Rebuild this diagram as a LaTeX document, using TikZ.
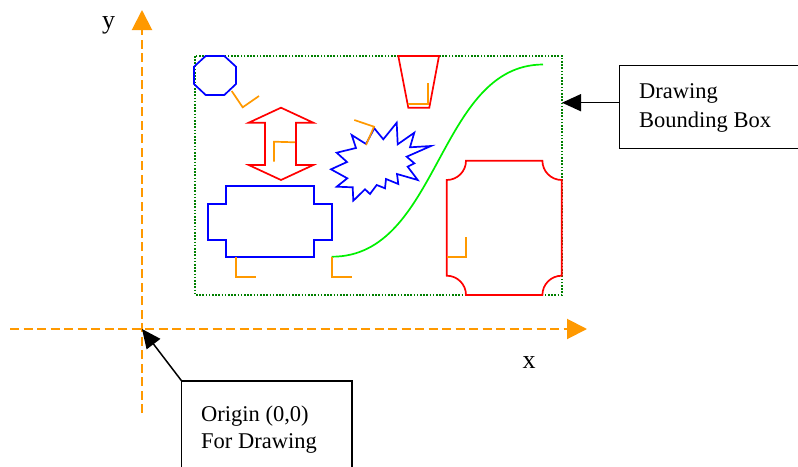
\documentclass[tikz,border=0pt]{standalone}
\usepackage{fontspec}
\setmainfont{Liberation Serif}
\usetikzlibrary{arrows.meta}
\definecolor{axorange}{RGB}{255,153,0}
\definecolor{boxgreen}{RGB}{0,128,0}
\definecolor{curvegreen}{RGB}{0,240,0}
\begin{document}
\begin{tikzpicture}[x=1pt,y=-1pt,
  axis/.style={draw=axorange, line width=2pt, dash pattern=on 9pt off 4.5pt,
    -{Triangle[length=20pt,width=20pt,fill=axorange]}},
  blueshape/.style={draw=blue, line width=1.7pt, line join=miter},
  redshape/.style={draw=red, line width=1.7pt, line join=miter},
  orangeL/.style={draw=axorange, line width=1.7pt},
  callout/.style={draw=black, line width=1.3pt},
  pointer/.style={draw=black, line width=1.5pt, -{Triangle[length=19pt,width=17pt]}},
  txt/.style={font=\fontsize{22.5}{27}\selectfont, inner sep=0pt, anchor=base west},
  axlab/.style={font=\fontsize{26}{30}\selectfont, inner sep=0pt, anchor=base}
]
\useasboundingbox (0,0) rectangle (798,466);
\fill[white] (0,0) rectangle (798,466);

% axes
\coordinate (orig) at (142,329);
\coordinate (ybot) at (142,413);
\coordinate (ytop) at (142,10);
\coordinate (xleft) at (10,329);
\coordinate (xright) at (587,329);
\draw[axis] (ybot) -- (ytop);
\draw[axis] (xleft) -- (xright);
\node[axlab] (ylab) at (108.5,28) {y};
\node[axlab] (xlab) at (529,368) {x};

% drawing bounding box
\draw[boxgreen, line width=1.6pt, dash pattern=on 1.6pt off 1.6pt] (195,56) rectangle (562,295);

% octagon
\draw[blueshape] (205.7,56) -- (224.3,56) -- (236,66.7) -- (236,84) -- (224.3,95) -- (205.7,95) -- (194,84) -- (194,66.7) -- cycle;
\draw[orangeL] (231.7,91) -- (242.7,107.3) -- (259,96);

% double arrow
\draw[redshape] (281,107.7) -- (313.3,122.7) -- (296,122.7) -- (296,165) -- (313.3,165) -- (281,180) -- (248.7,165) -- (265,165) -- (265,122.7) -- (248.7,122.7) -- cycle;
\draw[orangeL] (274,161.7) -- (274,141.7) -- (295,142.3);

% blue cross rectangle
\draw[blueshape] (226,185.7) -- (313.7,185.7) -- (313.7,204) -- (331.7,204) -- (331.7,240) -- (313.7,240) -- (313.7,257.3) -- (226,257.3) -- (226,240) -- (208.3,240) -- (208.3,204) -- (226,204) -- cycle;
\draw[orangeL] (235.7,257.3) -- (235.7,276.7) -- (255.7,276.7);

% green curve
\draw[curvegreen, line width=1.7pt] (331.7,256.7) .. controls (440,257) and (437,65) .. (543,64.5);
\draw[orangeL] (331.7,256.7) -- (331.7,276.7) -- (351.7,276.7);

% trapezoid
\draw[redshape] (398.3,56) -- (439,56) -- (429.3,107.7) -- (408.3,107.7) -- cycle;
\draw[orangeL] (427.7,83.3) -- (427.7,104) -- (408.3,104);

% starburst
\draw[blueshape] (351.7,135) -- (366,144) -- (374.3,128.3) -- (383.3,139.3) -- (396.7,122.7) -- (397.7,144.3) -- (414.3,132.7) -- (410,147.3) -- (431,146) -- (406.7,156.7) -- (414.3,163.3) -- (407.7,166.7) -- (417.7,180) -- (397,174) -- (398.3,184) -- (386,179) -- (385,188.3) -- (376.7,185) -- (370,194) -- (365,189.3) -- (353.3,200.7) -- (352.7,187.3) -- (336.7,186.7) -- (347.3,178.3) -- (331,169.3) -- (347,162) -- (336.7,152.7) -- (356,148) -- cycle;
\draw[orangeL] (354.3,120) -- (374,126.7) -- (366,145);

% plaque
\draw[redshape] (466,160.7) -- (542.4,160.7) .. controls (542.4,171.36) and (551.04,180) .. (561.7,180) -- (561.7,275.7) .. controls (551.04,275.7) and (542.4,284.34) .. (542.4,295) -- (466,295) .. controls (466,284.34) and (457.36,275.7) .. (446.7,275.7) -- (446.7,180) .. controls (457.36,180) and (466,171.36) .. (466,160.7) -- cycle;
\draw[orangeL] (466,237.3) -- (466,257.3) -- (446.7,257.3);

% callout: drawing bounding box
\node[callout, anchor=north west, minimum width=179pt, minimum height=83pt, inner sep=0pt] (dbox) at (618.5,65) {};
\coordinate (bbtip) at (562,102.7);
\draw[pointer] (dbox.west |- bbtip) -- (bbtip);
\node[txt] (dtxt1) at (639,98) {Drawing};
\node[txt] (dtxt2) at (639,127) {Bounding Box};

% callout: origin
\node[anchor=north west, minimum width=170pt, minimum height=86pt, inner sep=0pt] (obox) at (181.7,381) {};
\draw[callout] (obox.south west) -- (obox.north west) -- (obox.north east) -- (obox.south east);
\draw[pointer] (obox.north west) -- (orig);
\node[txt] (otxt1) at (201,421) {Origin (0,0)};
\node[txt] (otxt2) at (201,448) {For Drawing};
\end{tikzpicture}
\end{document}
